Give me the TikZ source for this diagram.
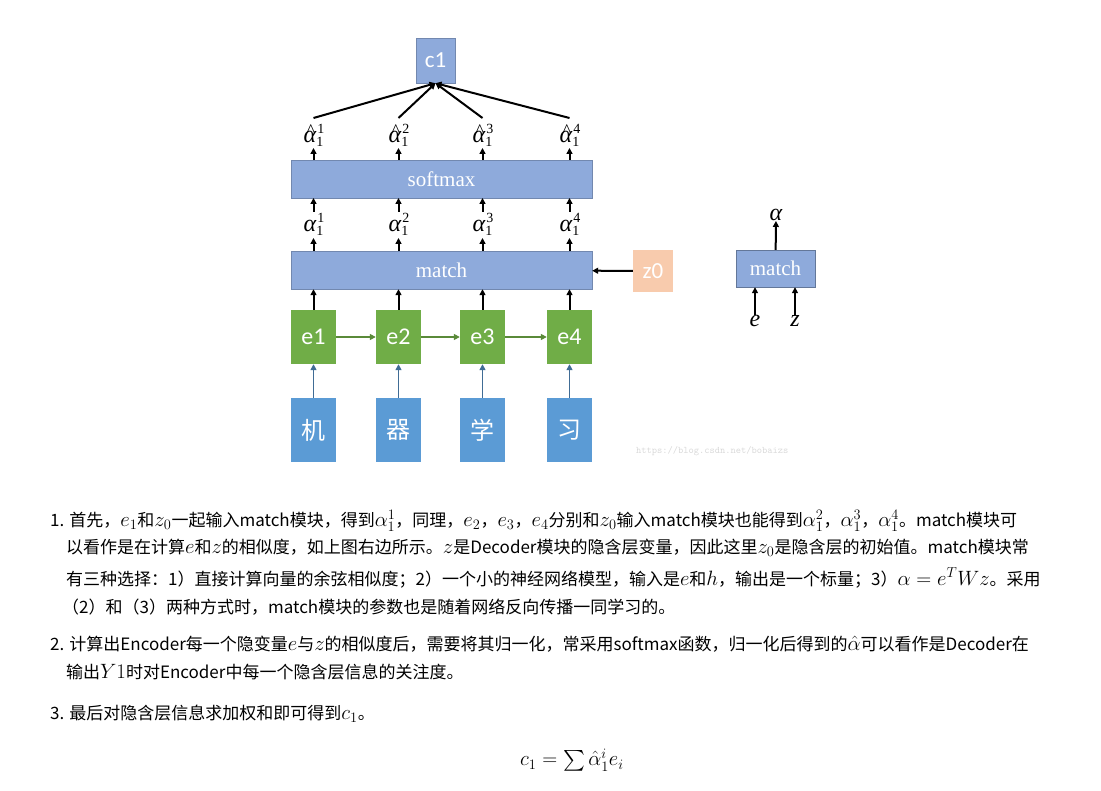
\documentclass[tikz,border=0pt]{standalone}
\usepackage{amsmath}
\usepackage{fontspec}
\setmainfont{Liberation Serif}
\setsansfont{Carlito}
\newfontfamily\cjk{Noto Sans CJK SC}
\newfontfamily\lbs{Liberation Serif}
\newcommand\mth[1]{\scalebox{1.2}{$#1$}}
\newcommand\alab[3]{{\lbs\fontsize{24}{24}\selectfont\itshape #1}\makebox[0pt][l]{\hspace{1pt}\raisebox{9pt}{\lbs\fontsize{14}{14}\selectfont #3}}\raisebox{-4pt}{\lbs\fontsize{14}{14}\selectfont #2}}
\newcommand\hlab[1]{\makebox[0pt][l]{\hspace{3pt}\raisebox{6pt}{\lbs\fontsize{18}{18}\selectfont\^{}}}{\lbs\fontsize{24}{24}\selectfont\itshape α}\makebox[0pt][l]{\hspace{1pt}\raisebox{9pt}{\lbs\fontsize{14}{14}\selectfont #1}}\raisebox{-4pt}{\lbs\fontsize{14}{14}\selectfont 1}}
\newcommand\slab[1]{{\lbs\fontsize{24}{24}\selectfont\itshape #1}}
\usetikzlibrary{arrows.meta}
\definecolor{barblue}{HTML}{8EAADB}
\definecolor{encgreen}{HTML}{70AD47}
\definecolor{inblue}{HTML}{5B9BD5}
\definecolor{zorange}{HTML}{F8CBAD}
\begin{document}
\begin{tikzpicture}[x=1pt,y=-1pt,
  box/.style={draw=none,minimum width=45pt,minimum height=54pt,inner sep=0pt},
  bar/.style={fill=barblue,draw=barblue!80!black,line width=0.4pt,minimum width=301pt,minimum height=38pt,inner sep=0pt,font=\fontsize{21}{21}\selectfont\color{white}},
  blk/.style={-{Triangle[length=6pt,width=6pt]},line width=2pt,black},
  grn/.style={-{Triangle[length=6pt,width=6pt]},line width=1.5pt,encgreen!80!black},
  blu/.style={-{Triangle[length=6pt,width=6pt]},line width=1.8pt,inblue!70!black},
  txt/.style={anchor=west,inner sep=0pt,font=\cjk\fontsize{17}{17}\selectfont},
  lab/.style={inner sep=0pt}]
\useasboundingbox (0,0) rectangle (1101,791);
% top
\node[fill=barblue,draw=barblue!80!black,minimum width=39pt,minimum height=45pt,inner sep=0pt,font=\sffamily\fontsize{23}{23}\selectfont\color{white}] (c1) at (435.5,60.5) {c1};
\node[bar] (soft) at (441.5,179) {softmax};
\node[bar] (match) at (441.5,270) {match};
\node[fill=zorange,minimum width=40pt,minimum height=42pt,inner sep=0pt,font=\sffamily\fontsize{23}{23}\selectfont\color{white}] (z0) at (653,271) {z0};
\foreach \i/\x/\c in {1/313.5/机,2/398.5/器,3/482.5/学,4/569.5/习}{
  \node[box,fill=encgreen,font=\sffamily\fontsize{24}{24}\selectfont\color{white}] (e\i) at (\x,337) {e\i};
  \node[box,fill=inblue,minimum height=64pt,font=\cjk\fontsize{24}{24}\selectfont\color{white}] (w\i) at (\x,430) {\c};
  \draw[blu] (w\i) -- (e\i);
  \draw[blk] (e\i) -- (e\i|-match.south);
  \node[lab] (a\i) at (\x,224) {\alab{α}{1}{\i}};
  \draw[blk] (\x,251) -- (\x,238);
  \draw[blk] (\x,212) -- (\x,198);
  \node[lab] (h\i) at (\x,135) {\hlab{\i}};
  \draw[blk] (\x,160) -- (\x,148);
  \draw[blk] (\x,118) -- (c1.south);
}
\foreach \i/\j in {1/2,2/3,3/4} \draw[grn] (e\i) -- (e\j);
\draw[blk] (z0) -- (match);
% right small
\node[fill=barblue,draw=barblue!70!black,minimum width=79pt,minimum height=37pt,inner sep=0pt,font=\fontsize{21}{21}\selectfont\color{white}] (m2) at (775.5,268.5) {match};
\node[lab] (al) at (776,215) {\slab{α}};
\node[lab] (ee) at (755,321) {\slab{e}};
\node[lab] (zz) at (795,321) {\slab{z}};
\draw[blk] (m2) -- (al);
\draw[blk] (ee) -- (ee|-m2.south);
\draw[blk] (zz) -- (zz|-m2.south);
\node[anchor=west,inner sep=0pt,font=\ttfamily\fontsize{10}{10}\selectfont,text=black!15] (wm) at (636,451) {https://blog.csdn.net/bobaizs};
% text
\node[txt] (l1) at (50,521) {1. 首先，\mth{e_1}和\mth{z_0}一起输入match模块，得到\mth{\alpha_1^1}，同理，\mth{e_2}，\mth{e_3}，\mth{e_4}分别和\mth{z_0}输入match模块也能得到\mth{\alpha_1^2}，\mth{\alpha_1^3}，\mth{\alpha_1^4}。match模块可};
\node[txt] (l2) at (66,548) {以看作是在计算\mth{e}和\mth{z}的相似度，如上图右边所示。\mth{z}是Decoder模块的隐含层变量，因此这里\mth{z_0}是隐含层的初始值。match模块常};
\node[txt] (l3) at (66,578) {有三种选择：1）直接计算向量的余弦相似度；2）一个小的神经网络模型，输入是\mth{e}和\mth{h}，输出是一个标量；3）\mth{\alpha=e^TWz}。采用};
\node[txt] (l4) at (62,607) {（2）和（3）两种方式时，match模块的参数也是随着网络反向传播一同学习的。};
\node[txt] (l5) at (50,644) {2. 计算出Encoder每一个隐变量\mth{e}与\mth{z}的相似度后，需要将其归一化，常采用softmax函数，归一化后得到的\mth{\hat\alpha}可以看作是Decoder在};
\node[txt] (l6) at (66,672) {输出\mth{Y1}时对Encoder中每一个隐含层信息的关注度。};
\node[txt] (l7) at (50,714) {3. 最后对隐含层信息求加权和即可得到\mth{c_1}。};
\node[txt,anchor=center] (f) at (572,760) {\mth{c_1=\sum\hat\alpha_1^i e_i}};
\end{tikzpicture}
\end{document}
